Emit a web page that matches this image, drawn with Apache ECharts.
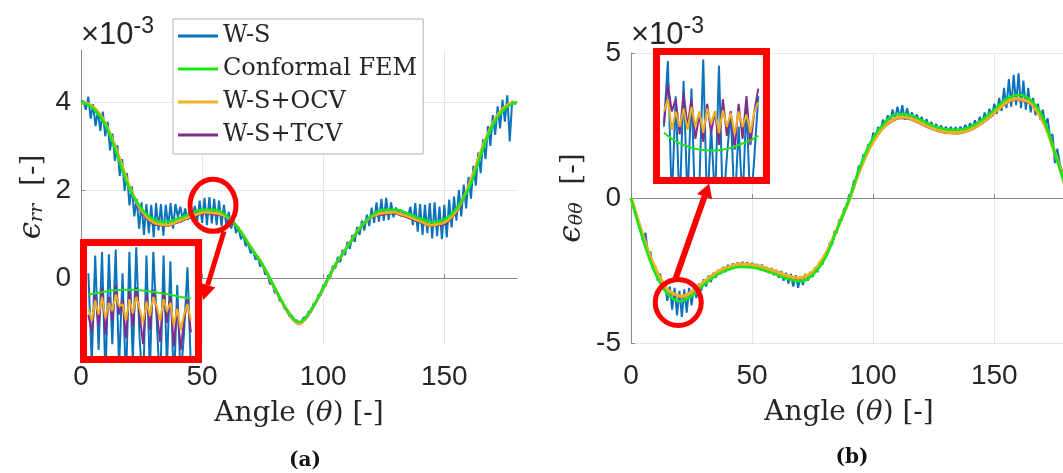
<!DOCTYPE html>
<html><head><meta charset="utf-8">
<script src="https://cdn.jsdelivr.net/npm/echarts@6/dist/echarts.min.js"></script>
<style>html,body{margin:0;padding:0;background:#fff}#c{width:1063px;height:473px}</style>
</head><body><div id="c"></div>
<script>
// ---------------- data ----------------
const ANG1 = [0,1,2,3,4,5,6,7,8,9,10,11,12,13,14,15,16,17,18,19,20,21,22,23,24,25,26,27,28,29,30,31,32,33,34,35,36,37,38,39,40,41,42,43,44,45,46,47,48,49,50,51,52,53,54,55,56,57,58,59,60,61,62,63,64,65,66,67,68,69,70,71,72,73,74,75,76,77,78,79,80,81,82,83,84,85,86,87,88,89,90,91,92,93,94,95,96,97,98,99,100,101,102,103,104,105,106,107,108,109,110,111,112,113,114,115,116,117,118,119,120,121,122,123,124,125,126,127,128,129,130,131,132,133,134,135,136,137,138,139,140,141,142,143,144,145,146,147,148,149,150,151,152,153,154,155,156,157,158,159,160,161,162,163,164,165,166,167,168,169,170,171,172,173,174,175,176,177,178,179,180];
const ANG3 = [0,3,6,9,12,15,18,21,24,27,30,33,36,39,42,45,48,51,54,57,60,63,66,69,72,75,78,81,84,87,90,93,96,99,102,105,108,111,114,117,120,123,126,129,132,135,138,141,144,147,150,153,156,159,162,165,168,171,174,177,180];
const ANG5 = [0,5,10,15,20,25,30,35,40,45,50,55,60,65,70,75,80,85,90,95,100,105,110,115,120,125,130,135,140,145,150,155,160,165,170,175,180];

// (a) epsilon_rr  (x 1e-3)
const RR_WS = [4.00,4.02,3.82,4.12,3.62,3.95,3.45,3.80,3.34,3.78,
 3.22,3.55,2.90,3.28,2.66,3.02,2.32,2.70,1.98,2.38,
 1.65,2.08,1.40,1.80,1.12,1.72,0.98,1.68,1.02,1.66,
 0.92,1.70,1.08,1.68,0.96,1.66,1.16,1.70,1.12,1.68,
 1.38,1.62,1.32,1.58,1.32,1.60,1.34,1.64,1.30,1.76,
 1.25,1.82,1.20,1.84,1.24,1.80,1.20,1.76,1.18,1.66,
 1.18,1.50,1.12,1.34,1.02,1.16,0.88,0.98,0.72,0.80,
 0.56,0.64,0.42,0.48,0.26,0.32,0.08,0.11,-0.14,-0.10,
 -0.34,-0.31,-0.52,-0.51,-0.70,-0.71,-0.86,-0.85,-0.98,-0.96,
 -1.03,-0.99,-0.90,-0.90,-0.76,-0.78,-0.58,-0.58,-0.38,-0.40,
 -0.16,-0.18,0.06,0.02,0.28,0.22,0.48,0.36,0.64,0.52,
 0.82,0.66,0.98,0.82,1.16,0.98,1.30,1.08,1.44,1.18,
 1.60,1.25,1.72,1.28,1.80,1.30,1.82,1.32,1.72,1.38,
 1.60,1.46,1.55,1.45,1.50,1.40,1.62,1.20,1.70,1.05,
 1.68,0.98,1.66,1.02,1.70,0.90,1.72,0.95,1.62,0.88,
 1.66,0.92,1.78,1.15,1.85,1.30,2.00,1.40,2.12,1.58,
 2.30,1.80,2.55,2.10,2.85,2.38,3.15,2.70,3.45,3.00,
 3.70,3.25,3.90,3.40,4.05,3.55,4.15,3.10,4.02,3.95,
 4.00];
const RR_FEM = [4.00,3.85,3.48,2.78,2.02,1.58,1.33,1.27,1.35,1.46,1.55,1.55,1.42,1.12,0.70,0.30,-0.22,-0.72,-1.00,
 -0.72,-0.22,0.30,0.70,1.12,1.42,1.55,1.55,1.46,1.35,1.27,1.33,1.58,2.02,2.78,3.48,3.85,4.00];
const RR_OCV = [3.98,3.96,3.84,3.62,3.28,2.86,2.38,1.95,1.62,1.40,
 1.26,1.22,1.20,1.27,1.33,1.40,1.45,1.50,1.48,1.46,
 1.40,1.26,1.06,0.80,0.55,0.30,-0.02,-0.34,-0.64,-0.90,
 -1.04,
 -0.90,-0.64,-0.34,-0.02,0.30,0.55,0.80,1.06,1.26,1.40,
 1.46,1.48,1.50,1.45,1.40,1.33,1.27,1.20,1.22,1.26,
 1.40,1.62,1.95,2.38,2.86,3.28,3.62,3.84,3.96,3.98];
const RR_TCV = [3.97,3.95,3.82,3.60,3.26,2.84,2.36,1.93,1.58,1.36,
 1.22,1.20,1.18,1.24,1.30,1.37,1.42,1.47,1.45,1.43,
 1.38,1.24,1.04,0.78,0.53,0.28,-0.04,-0.36,-0.66,-0.92,
 -1.05,
 -0.92,-0.66,-0.36,-0.04,0.28,0.53,0.78,1.04,1.24,1.38,
 1.43,1.45,1.47,1.42,1.37,1.30,1.24,1.18,1.20,1.22,
 1.36,1.58,1.93,2.36,2.84,3.26,3.60,3.82,3.95,3.97];

// (b) epsilon_thetatheta  (x 1e-3)
const TT_WS = [0.00,-0.20,-0.55,-0.80,-1.05,-1.50,-1.20,-1.95,-1.85,-2.45,
 -2.35,-2.85,-2.60,-3.15,-2.95,-3.55,-3.05,-3.85,-3.10,-4.05,
 -3.20,-4.10,-3.15,-3.95,-3.10,-3.70,-3.05,-3.45,-2.95,-3.20,
 -2.80,-3.05,-2.68,-2.90,-2.58,-2.75,-2.48,-2.62,-2.38,-2.55,
 -2.30,-2.45,-2.26,-2.40,-2.22,-2.38,-2.20,-2.36,-2.22,-2.38,
 -2.24,-2.40,-2.28,-2.44,-2.30,-2.50,-2.38,-2.58,-2.42,-2.66,
 -2.48,-2.75,-2.52,-2.85,-2.58,-2.95,-2.62,-3.05,-2.66,-3.10,
 -2.70,-3.00,-2.62,-2.85,-2.55,-2.72,-2.40,-2.55,-2.18,-2.30,
 -1.95,-1.98,-1.55,-1.62,-1.15,-1.20,-0.75,-0.78,-0.35,-0.36,
 0.10,0.15,0.60,0.62,1.10,1.08,1.50,1.48,1.85,1.80,
 2.25,2.05,2.45,2.30,2.70,2.50,2.85,2.60,3.05,2.72,
 3.15,2.75,3.20,2.70,3.10,2.72,2.95,2.68,2.88,2.60,
 2.80,2.50,2.72,2.45,2.62,2.38,2.55,2.32,2.50,2.28,
 2.46,2.27,2.45,2.26,2.44,2.25,2.46,2.30,2.52,2.34,
 2.58,2.40,2.68,2.45,2.80,2.55,2.95,2.68,3.08,2.80,
 3.25,2.90,3.45,3.00,3.80,3.10,4.10,3.15,4.25,3.20,
 4.30,3.10,4.05,3.05,3.80,2.95,3.45,2.85,3.25,2.70,
 3.05,2.50,2.75,2.10,2.20,1.20,1.70,1.20,0.90,0.60,
 0.25];
const TT_FEM = [0.00,-1.45,-2.60,-3.30,-3.55,-3.38,-3.00,-2.68,-2.48,-2.38,-2.40,-2.50,-2.64,-2.80,-2.88,-2.65,-2.10,-1.10,-0.05,
 1.18,2.08,2.62,2.90,2.87,2.68,2.48,2.37,2.35,2.45,2.70,3.05,3.42,3.55,3.38,2.78,1.55,0.20];
const TT_OCV = [0.00,-0.80,-1.58,-2.25,-2.75,-3.16,-3.32,-3.40,-3.30,-3.12,
 -2.90,-2.71,-2.54,-2.42,-2.34,-2.28,-2.29,-2.32,-2.38,-2.46,
 -2.54,-2.64,-2.72,-2.76,-2.70,-2.56,-2.25,-1.85,-1.28,-0.68,
 -0.08,
 0.64,1.28,1.81,2.21,2.52,2.69,2.79,2.78,2.69,2.58,
 2.46,2.36,2.29,2.26,2.25,2.31,2.40,2.55,2.74,2.95,
 3.17,3.35,3.42,3.38,3.28,2.95,2.50,1.80,1.05,0.22];
const TT_TCV = [0.00,-0.82,-1.60,-2.28,-2.78,-3.20,-3.36,-3.43,-3.33,-3.15,
 -2.93,-2.74,-2.57,-2.45,-2.37,-2.31,-2.32,-2.35,-2.41,-2.49,
 -2.57,-2.67,-2.75,-2.79,-2.73,-2.59,-2.28,-1.88,-1.30,-0.70,
 -0.10,
 0.62,1.25,1.78,2.18,2.48,2.65,2.75,2.74,2.65,2.54,
 2.42,2.33,2.26,2.23,2.22,2.28,2.37,2.52,2.70,2.91,
 3.13,3.31,3.38,3.34,3.24,2.92,2.48,1.78,1.04,0.21];

// zoom insets
const INA_ANG = [46,46.5,47,47.5,48,48.5,49,49.5,50,50.5,51,51.5,52,52.5,53,53.5,54,54.5,55,55.5,56,56.5,57,57.5,58,58.5,59,59.5,60,60.5,61];
const INA_WS  = [1.70,0.95,1.85,1.05,1.88,0.80,1.86,1.10,1.90,0.90,1.70,0.75,1.88,0.95,1.92,1.15,0.70,1.85,0.85,1.88,1.30,0.72,1.85,0.90,1.80,0.70,1.60,0.80,1.20,1.75,0.90];
const INA_FEM = [1.52,1.525,1.53,1.535,1.54,1.545,1.55,1.553,1.556,1.558,1.56,1.56,1.56,1.56,1.558,1.556,1.553,1.55,1.546,1.542,1.538,1.533,1.528,1.523,1.518,1.512,1.506,1.50,1.495,1.49,1.485];
const INA_OCV = [1.40,1.30,1.47,1.35,1.50,1.32,1.45,1.38,1.52,1.42,1.44,1.30,1.48,1.36,1.50,1.40,1.28,1.46,1.34,1.50,1.42,1.30,1.48,1.38,1.45,1.26,1.40,1.22,1.35,1.44,1.30];
const INA_TCV = [1.35,1.20,1.52,1.25,1.58,1.18,1.50,1.30,1.60,1.35,1.48,1.15,1.55,1.25,1.58,1.35,1.10,1.52,1.22,1.56,1.38,1.12,1.55,1.28,1.50,1.08,1.42,1.05,1.30,1.48,1.20];

const INB_ANG = [12,12.5,13,13.5,14,14.5,15,15.5,16,16.5,17,17.5,18,18.5,19,19.5,20,20.5,21,21.5,22,22.5,23,23.5,24];
const INB_WS  = [-3.40,-2.97,-3.90,-3.20,-3.95,-3.10,-3.90,-3.15,-4.00,-3.80,-2.96,-3.95,-3.40,-3.90,-3.00,-3.95,-3.60,-3.30,-3.95,-3.40,-3.90,-3.25,-3.95,-3.60,-3.20];
const INB_FEM = [-3.44,-3.46,-3.48,-3.495,-3.51,-3.52,-3.53,-3.54,-3.545,-3.55,-3.553,-3.555,-3.556,-3.555,-3.553,-3.55,-3.545,-3.54,-3.53,-3.52,-3.51,-3.50,-3.49,-3.475,-3.46];
const INB_OCV = [-3.30,-3.22,-3.42,-3.30,-3.40,-3.28,-3.42,-3.27,-3.40,-3.30,-3.44,-3.28,-3.38,-3.30,-3.44,-3.29,-3.40,-3.31,-3.45,-3.30,-3.40,-3.32,-3.44,-3.30,-3.24];
const INB_TCV = [-3.38,-3.12,-3.30,-3.22,-3.45,-3.18,-3.40,-3.22,-3.48,-3.32,-3.50,-3.25,-3.44,-3.30,-3.52,-3.22,-3.46,-3.30,-3.55,-3.25,-3.48,-3.20,-3.52,-3.30,-3.15];

const X_TICKS = [0, 50, 100, 150];
const YA_TICKS = [0, 2, 4];
const YB_TICKS = [-5, 0, 5];
const NAMES = ['W-S', 'Conformal FEM', 'W-S+OCV', 'W-S+TCV'];

// ---------------- chart ----------------
const chart = echarts.init(document.getElementById('c'), null, {renderer: 'canvas'});
const pairs = (xs, ys) => xs.map((x, i) => [x, ys[i]]);
const COL = {ws: '#0b72bd', fem: '#19e619', ocv: '#edb120', tcv: '#7e2f8e'};
const SERIF = '"DejaVu Serif", serif';
const SANS = '"Liberation Sans", Arial, sans-serif';
const TXT = '#262626';

function mainX(gi) {
  return {
    type: 'value', gridIndex: gi, min: 0, max: 180,
    axisLine: {show: true, lineStyle: {color: '#8a8a8a', width: 1}},
    axisTick: {show: true, inside: true, length: 4, customValues: X_TICKS, lineStyle: {color: '#8a8a8a'}},
    axisLabel: {customValues: X_TICKS, fontSize: 28, fontFamily: SANS, color: TXT, margin: 19},
    splitLine: {show: true, lineStyle: {color: '#e6e6e6', width: 1}},
    name: 'Angle ({i|θ}) [-]', nameLocation: 'middle', nameGap: 56,
    nameTextStyle: {fontFamily: SERIF, fontSize: 28, color: TXT,
      rich: {i: {fontFamily: SERIF, fontStyle: 'italic', fontSize: 28, color: TXT}}}
  };
}
function mainY(gi, min, max, ticks, sub, gap) {
  return {
    type: 'value', gridIndex: gi, min: min, max: max,
    axisLine: {show: true, lineStyle: {color: '#8a8a8a', width: 1}},
    axisTick: {show: true, inside: true, length: 4, customValues: ticks, lineStyle: {color: '#8a8a8a'}},
    axisLabel: {customValues: ticks, fontSize: 28, fontFamily: SANS, color: TXT, margin: 10},
    splitLine: {show: true, lineStyle: {color: '#e6e6e6', width: 1}},
    name: '{e|ϵ}{s|' + sub + '}  {n|[-]}', nameLocation: 'middle', nameGap: gap,
    nameTextStyle: {fontFamily: SERIF, fontSize: 28, color: TXT, lineHeight: 34,
      rich: {
        e: {fontFamily: SERIF, fontStyle: 'italic', fontSize: 31, color: TXT, lineHeight: 34, verticalAlign: 'bottom'},
        s: {fontFamily: SERIF, fontStyle: 'italic', fontSize: 19, color: TXT, lineHeight: 12, verticalAlign: 'bottom'},
        n: {fontFamily: SERIF, fontSize: 28, color: TXT, lineHeight: 34, verticalAlign: 'bottom'}
      }}
  };
}
function insetAxis(gi, min, max) {
  return {type: 'value', gridIndex: gi, min: min, max: max, show: false,
    axisLine: {show: false}, axisTick: {show: false}, axisLabel: {show: false}, splitLine: {show: false}};
}
function line(name, xi, xs, ys, color, width, z, smooth) {
  return {name: name, type: 'line', xAxisIndex: xi, yAxisIndex: xi, data: pairs(xs, ys),
    symbol: 'none', showSymbol: false, smooth: smooth || false, z: z,
    lineStyle: {color: color, width: width}, itemStyle: {color: color}, animation: false};
}
const EXP_RICH = {
  m: {fontFamily: SANS, fontSize: 31, color: TXT, lineHeight: 36, verticalAlign: 'bottom'},
  s: {fontFamily: SANS, fontSize: 23, color: TXT, lineHeight: 16, verticalAlign: 'top'}
};

const option = {
  animation: false,
  backgroundColor: '#ffffff',
  title: [
    {text: '{m|×10}{s|-3}', left: 81, top: 15, padding: 0, textStyle: {fontWeight: 'normal', rich: EXP_RICH}},
    {text: '{m|×10}{s|-3}', left: 631, top: 15, padding: 0, textStyle: {fontWeight: 'normal', rich: EXP_RICH}}
  ],
  legend: {
    data: NAMES, orient: 'vertical', left: 173, top: 19, padding: [4, 6, 6, 5],
    itemWidth: 40, itemHeight: 3, itemGap: 7, icon: 'rect',
    backgroundColor: '#ffffff', borderColor: '#b3b3b3', borderWidth: 1, borderRadius: 0,
    textStyle: {fontFamily: SERIF, fontSize: 24, color: TXT, lineHeight: 26},
    selectedMode: false, z: 6
  },
  grid: [
    {left: 81, top: 50, width: 436, height: 294, outerBoundsMode: 'none', containLabel: false},
    {left: 631, top: 53, width: 436, height: 290, outerBoundsMode: 'none', containLabel: false},
    {left: 87, top: 246, width: 108, height: 110, show: true, backgroundColor: '#ffffff', borderWidth: 0, z: 10, outerBoundsMode: 'none'},
    {left: 660, top: 55, width: 103, height: 122, show: true, backgroundColor: '#ffffff', borderWidth: 0, z: 10, outerBoundsMode: 'none'}
  ],
  xAxis: [mainX(0), mainX(1), insetAxis(2, 45.8, 61.6), insetAxis(3, 11.5, 24.6)],
  yAxis: [
    mainY(0, -1.5, 5.18, YA_TICKS, 'rr', 34),
    mainY(1, -5, 5, YB_TICKS, 'θθ', 44),
    insetAxis(2, 1.0, 1.93),
    insetAxis(3, -3.73, -2.93)
  ],
  series: [
    line('W-S', 0, ANG1, RR_WS, COL.ws, 2, 2),
    line('W-S+TCV', 0, ANG3, RR_TCV, COL.tcv, 2, 3, 0.3),
    line('W-S+OCV', 0, ANG3, RR_OCV, COL.ocv, 3, 3, 0.3),
    line('Conformal FEM', 0, ANG5, RR_FEM, COL.fem, 2.5, 4, 0.4),
    line('W-S', 1, ANG1, TT_WS, COL.ws, 2, 2),
    line('W-S+TCV', 1, ANG3, TT_TCV, COL.tcv, 2, 3, 0.3),
    line('W-S+OCV', 1, ANG3, TT_OCV, COL.ocv, 3.5, 3, 0.3),
    line('Conformal FEM', 1, ANG5, TT_FEM, COL.fem, 2.5, 4, 0.4),
    line('W-S', 2, INA_ANG, INA_WS, COL.ws, 2, 12),
    line('W-S+TCV', 2, INA_ANG, INA_TCV, COL.tcv, 2, 13),
    line('W-S+OCV', 2, INA_ANG, INA_OCV, COL.ocv, 2, 14),
    line('Conformal FEM', 2, INA_ANG, INA_FEM, COL.fem, 2, 15, true),
    line('W-S', 3, INB_ANG, INB_WS, COL.ws, 2, 12),
    line('W-S+TCV', 3, INB_ANG, INB_TCV, COL.tcv, 2, 13),
    line('W-S+OCV', 3, INB_ANG, INB_OCV, COL.ocv, 2, 14),
    line('Conformal FEM', 3, INB_ANG, INB_FEM, COL.fem, 2, 15, true)
  ]
};
chart.setOption(option);

// ---------------- annotations (red zoom markers) ----------------
const RED = '#ff0000';
function arrow(sx, sy, tx, ty, L, W, lw) {
  const dx = tx - sx, dy = ty - sy, len = Math.hypot(dx, dy);
  const ux = dx / len, uy = dy / len, nx = -uy, ny = ux;
  const bx = tx - ux * L, by = ty - uy * L;
  return [
    {type: 'line', z: 100, shape: {x1: sx, y1: sy, x2: bx, y2: by}, style: {stroke: RED, lineWidth: lw}},
    {type: 'polygon', z: 100, shape: {points: [[tx, ty], [bx + nx * W, by + ny * W], [bx - nx * W, by - ny * W]]}, style: {fill: RED}}
  ];
}
function frame(g) {
  return {type: 'rect', z: 100, shape: {x: g.left - 3.5, y: g.top - 3.5, width: g.width + 7, height: g.height + 7},
    style: {fill: 'none', stroke: RED, lineWidth: 7}};
}
const ca = chart.convertToPixel({gridIndex: 0}, [54.5, 1.65]);
const cb = chart.convertToPixel({gridIndex: 1}, [19.5, -3.6]);
const graphics = [
  frame(option.grid[2]), frame(option.grid[3]),
  {type: 'ellipse', z: 100, shape: {cx: ca[0], cy: ca[1], rx: 23, ry: 26}, style: {fill: 'none', stroke: RED, lineWidth: 5}},
  {type: 'ellipse', z: 100, shape: {cx: cb[0], cy: cb[1], rx: 23, ry: 23}, style: {fill: 'none', stroke: RED, lineWidth: 5}},
  ...arrow(ca[0] + 11, ca[1] + 26, ca[0] - 10, ca[1] + 95, 16, 8, 5),
  ...arrow(cb[0] - 3, cb[1] - 23, cb[0] + 31, cb[1] - 119, 14, 8, 6),
  {type: 'text', z: 100, style: {text: '(a)', x: 305, y: 461, align: 'center', verticalAlign: 'middle', textAlign: 'center', textVerticalAlign: 'middle',
    fontFamily: SERIF, fontSize: 20, fontWeight: 'bold', fill: '#111'}},
  {type: 'text', z: 100, style: {text: '(b)', x: 852, y: 458, align: 'center', verticalAlign: 'middle', textAlign: 'center', textVerticalAlign: 'middle',
    fontFamily: SERIF, fontSize: 20, fontWeight: 'bold', fill: '#111'}}
];
chart.setOption({graphic: graphics});
</script>
</body></html>
